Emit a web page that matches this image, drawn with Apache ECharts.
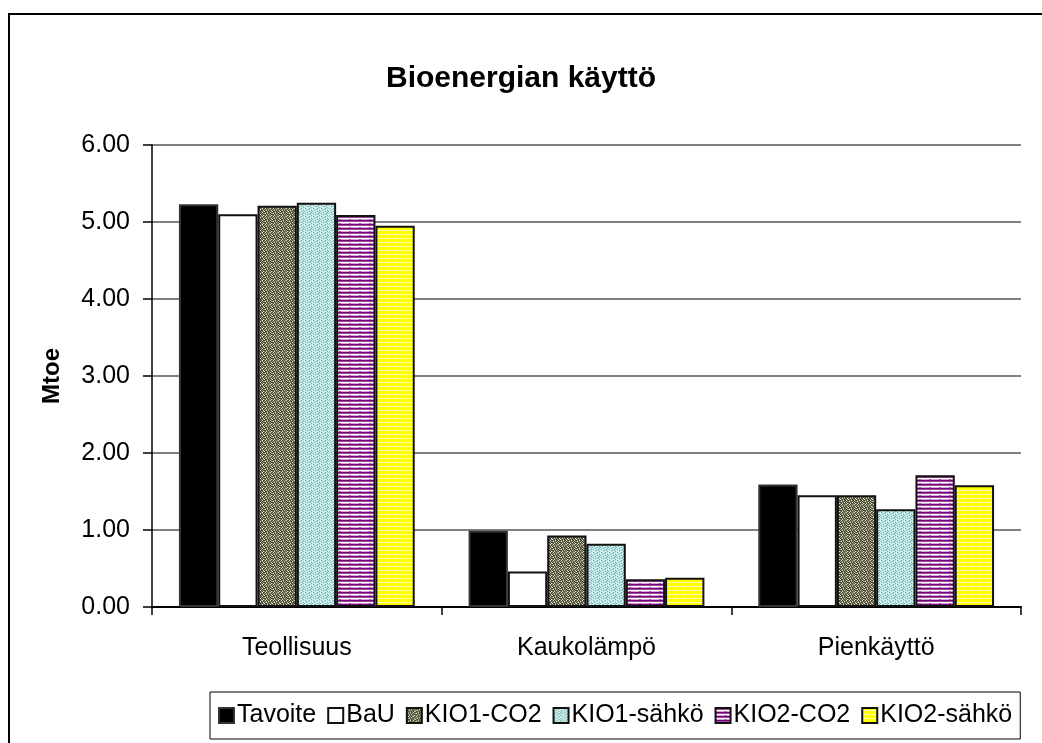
<!DOCTYPE html>
<html>
<head>
<meta charset="utf-8">
<script src="https://cdn.jsdelivr.net/npm/echarts@6/dist/echarts.min.js"></script>
<style>
  html, body { margin: 0; padding: 0; background: #fff; }
  #chart { width: 1042px; height: 743px; }
</style>
</head>
<body>
<div id="chart"></div>
<script>
// Bioenergy use by sector (Mtoe)
const categories = ['Teollisuus', 'Kaukolämpö', 'Pienkäyttö'];
const seriesNames = ['Tavoite', 'BaU', 'KIO1-CO2', 'KIO1-sähkö', 'KIO2-CO2', 'KIO2-sähkö'];
const tavoite   = [5.23, 0.99, 1.59];
const bau       = [5.10, 0.46, 1.45];
const kio1Co2   = [5.21, 0.93, 1.45];
const kio1Sahko = [5.25, 0.82, 1.27];
const kio2Co2   = [5.09, 0.36, 1.71];
const kio2Sahko = [4.95, 0.38, 1.58];
const yTicks = [0, 1, 2, 3, 4, 5, 6];

const FONT = '"Liberation Sans", Arial, sans-serif';

// Build a small repeating fill pattern from a grid of colour keys
function makePattern(rows, palette) {
  const h = rows.length, w = rows[0].length;
  const c = document.createElement('canvas');
  c.width = w; c.height = h;
  const ctx = c.getContext('2d');
  for (let y = 0; y < h; y++) {
    for (let x = 0; x < w; x++) {
      ctx.fillStyle = palette[rows[y][x]];
      ctx.fillRect(x, y, 1, 1);
    }
  }
  return { image: c, repeat: 'repeat' };
}

// dark olive speckle
const speckleDark = makePattern([
  'dLdmdmLd',
  'mdmdLdmd',
  'dmLdmddL',
  'Lddmdmdm',
  'dmdLddLd',
  'mLdmdmdm',
  'ddmdLdmd',
  'mdLddmdL'
], { d: '#4a4a38', m: '#8c8c78', L: '#ecebc4' });

// light cyan speckle
const speckleCyan = makePattern([
  'cgcwcgcc',
  'wcccgcwc',
  'ccgcwccg',
  'gwcccgcc',
  'cccgcwcg',
  'cgwcccgc',
  'wccgcgcc',
  'ccwccwcg'
], { c: '#b4e6e6', g: '#8aacac', w: '#f4ffff' });

// purple horizontal stripes
const stripePurple = makePattern([
  'pppppppppp',
  'qqqqqqqqqq',
  'wwwwwwwwww',
  'vllllllllv'
], { p: '#760076', q: '#9c4a9c', l: '#d8a6d8', v: '#a258a2', w: '#ffffff' });

// yellow horizontal stripes
const stripeYellow = makePattern([
  'yyyyyyyy',
  'yyyyyyyy',
  'ewwwwwwe',
  'yyyyyyyy'
], { y: '#ffff00', w: '#ffffc8', e: '#f4f4a0' });

const values = [tavoite, bau, kio1Co2, kio1Sahko, kio2Co2, kio2Sahko];
const fills = ['#000000', '#ffffff', speckleDark, speckleCyan, stripePurple, stripeYellow];

const series = seriesNames.map((name, i) => ({
  name: name,
  type: 'bar',
  data: values[i],
  barGap: '0%',
  barCategoryGap: '18.6%',
  itemStyle: {
    color: fills[i],
    borderColor: i === 0 ? '#333333' : '#111111',
    borderWidth: 2
  },
  emphasis: { disabled: true }
}));

const chart = echarts.init(document.getElementById('chart'), null, { renderer: 'canvas' });
chart.setOption({
  animation: false,
  backgroundColor: '#ffffff',
  title: {
    text: 'Bioenergian käyttö',
    left: 'center',
    top: 59,
    textStyle: { fontFamily: FONT, fontSize: 30, fontWeight: 'bold', color: '#000' }
  },
  graphic: [{
    type: 'rect',
    shape: { x: 9, y: 14, width: 1045, height: 745 },
    style: { fill: 'none', stroke: '#000', lineWidth: 2 },
    silent: true,
    z: -1
  }],
  legend: {
    data: seriesNames,
    left: 210,
    top: 692,
    orient: 'horizontal',
    itemWidth: 15,
    itemHeight: 15,
    itemGap: 11,
    padding: [11, 8],
    borderColor: '#000',
    borderWidth: 1,
    icon: 'rect',
    textStyle: { fontFamily: FONT, fontSize: 25, color: '#000', padding: [0, 0, 0, -2] }
  },
  grid: { left: 152, right: 21, top: 145, bottom: 136, containLabel: false },
  xAxis: {
    type: 'category',
    data: categories,
    axisLine: { lineStyle: { color: '#000', width: 2 } },
    axisTick: { show: true, length: 8, alignWithLabel: false, lineStyle: { color: '#000', width: 1.5 } },
    axisLabel: { fontFamily: FONT, fontSize: 25, color: '#000', margin: 29 },
    splitLine: { show: false }
  },
  yAxis: {
    type: 'value',
    min: yTicks[0],
    max: yTicks[yTicks.length - 1],
    interval: 1,
    name: 'Mtoe',
    nameLocation: 'middle',
    nameRotate: 90,
    nameGap: 88,
    nameTextStyle: { fontFamily: FONT, fontSize: 24, fontWeight: 'bold', color: '#000' },
    axisLine: { show: true, lineStyle: { color: '#000', width: 1.5 } },
    axisTick: { show: true, length: 9, inside: false, lineStyle: { color: '#000', width: 1.5 } },
    axisLabel: {
      fontFamily: FONT, fontSize: 25, color: '#000', margin: 22,
      formatter: v => v.toFixed(2)
    },
    splitLine: { show: true, lineStyle: { color: '#808080', width: 2 } }
  },
  series: series
});
</script>
</body>
</html>
